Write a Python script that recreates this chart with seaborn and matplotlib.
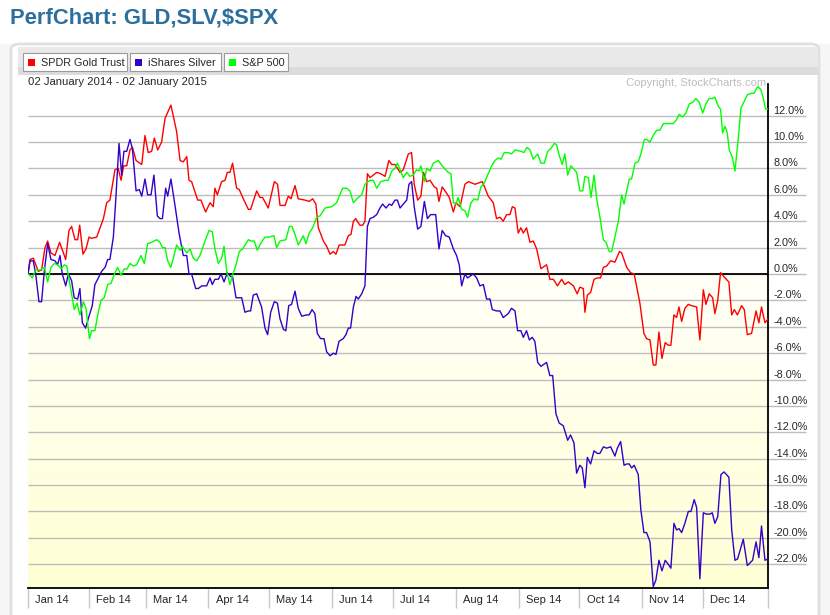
import matplotlib
matplotlib.use('Agg')
import matplotlib.pyplot as plt
from matplotlib.patches import Rectangle, FancyBboxPatch
from matplotlib.colors import LinearSegmentedColormap
import numpy as np
import pandas as pd
import seaborn as sns

# --- data: days since 02 Jan 2014, % change ---
gld_day = [0, 1.0, 2.6, 5.1, 6.7, 8.4, 9.7, 11.3, 13.3, 15.6,
           18.6, 20.2, 21.5, 23.2, 24.5, 25.5, 27.1, 28.6, 30.1, 31.4,
           33.9, 37.2, 38.8, 40.4, 42.9, 44.5, 45.9, 47.2, 48.7, 50.3,
           51.5, 53.3, 56.1, 57.7, 59.3, 61.0, 62.3, 64.0, 65.9, 67.6,
           70.5, 73.3, 75.0, 76.6, 78.3, 79.4, 80.7, 83.7, 85.3, 87.6,
           89.8, 91.4, 92.2, 93.4, 95.5, 97.2, 98.3, 99.6, 100.9, 102.9,
           104.2, 106.2, 108.7, 109.8, 112.8, 114.4, 115.7, 118.5, 121.5, 123.1,
           124.3, 126.8, 128.4, 129.7, 131.7, 133.3, 136.6, 138.7, 140.4, 142.0,
           143.2, 145.7, 147.3, 149.0, 150.6, 151.9, 153.5, 156.3, 158.0, 159.3,
           160.5, 161.6, 163.7, 165.1, 166.2, 167.4, 168.7, 172.0, 174.0, 176.1,
           178.0, 179.4, 181.0, 183.5, 185.1, 187.6, 189.2, 190.5, 192.2, 193.8,
           195.1, 196.6, 198.3, 200.4, 201.6, 202.7, 204.3, 205.7, 207.8, 209.8,
           211.1, 213.1, 215.5, 217.2, 220.5, 224.1, 227.0, 229.5, 231.1, 232.8,
           234.4, 236.1, 237.7, 238.9, 240.2, 241.8, 243.1, 244.3, 245.9, 247.6,
           249.2, 250.9, 253.0, 255.8, 257.4, 259.1, 261.2, 263.2, 264.8, 266.5,
           269.0, 270.9, 272.2, 273.9, 274.7, 275.9, 277.5, 279.2, 280.8, 282.4,
           283.8, 285.4, 287.4, 289.5, 291.7, 292.8, 295.3, 297.2, 299.0, 301.8,
           303.8, 305.1, 306.8, 308.4, 309.7, 311.2, 312.7, 314.3, 315.8, 317.1,
           318.6, 319.9, 321.1, 322.4, 324.0, 325.7, 327.3, 329.8, 331.4, 333.1,
           334.4, 336.0, 337.7, 338.8, 340.2, 341.6, 343.8, 345.7, 347.1, 348.4,
           349.9, 352.0, 353.3, 354.8, 356.9, 359.1, 360.5, 361.8, 363.5, 365.0]
gld_pct = [0, 1.1, 1.2, 0.2, 0.3, 2.0, 2.5, 1.6, 1.4, 2.4,
           1.1, 3.3, 3.6, 2.6, 2.6, 3.7, 1.5, 1.9, 2.8, 2.7,
           2.8, 4.2, 5.4, 5.6, 7.9, 8.0, 7.1, 8.2, 8.2, 9.4,
           9.6, 8.6, 8.3, 10.5, 9.2, 9.3, 10.3, 9.4, 10.0, 11.8,
           12.8, 10.8, 8.6, 8.5, 8.9, 7.1, 7.0, 5.6, 5.6, 4.7,
           5.4, 5.1, 6.5, 6.0, 7.0, 7.1, 7.7, 7.7, 8.4, 6.5,
           6.4, 5.7, 4.9, 4.9, 6.3, 5.8, 5.8, 5.0, 7.0, 6.8,
           5.2, 5.2, 5.9, 5.7, 6.7, 5.7, 5.6, 5.5, 5.7, 5.3,
           3.5, 2.5, 2.1, 1.5, 1.7, 1.5, 2.2, 2.2, 2.9, 3.0,
           4.0, 4.2, 3.7, 3.7, 4.0, 7.6, 7.3, 7.7, 7.6, 7.4,
           8.6, 8.3, 8.3, 7.7, 7.9, 9.1, 9.2, 6.8, 5.6, 5.9,
           7.7, 7.0, 7.1, 6.6, 6.5, 5.5, 6.6, 6.3, 5.8, 4.7,
           5.4, 5.1, 6.8, 7.0, 6.8, 7.0, 5.9, 5.4, 4.2, 4.3,
           4.0, 4.5, 4.5, 5.1, 5.0, 3.1, 3.5, 3.1, 3.5, 2.4,
           2.5, 1.9, 0.4, 0.7, -0.4, -0.4, -0.9, -0.4, -0.8, -0.6,
           -0.9, -1.5, -1.0, -1.1, -2.9, -1.6, -1.4, -0.4, -0.3, -0.3,
           0.5, 0.6, 1.0, 0.9, 1.7, 1.6, 0.5, 0.1, 0.0, -2.2,
           -4.5, -4.9, -5.0, -6.9, -6.9, -4.4, -6.4, -5.2, -5.4, -5.4,
           -3.1, -3.3, -2.5, -3.6, -2.6, -2.3, -2.4, -2.5, -5.0, -1.2,
           -2.3, -1.5, -1.8, -3.0, -2.0, 0.1, -0.3, -0.6, -3.1, -2.7,
           -3.1, -2.4, -2.7, -4.6, -4.5, -2.8, -3.7, -2.5, -3.7, -3.4]

slv_day = [0, 1.0, 2.6, 3.8, 5.4, 6.7, 8.1, 9.7, 11.3, 13.3,
           14.6, 15.8, 16.9, 18.6, 19.9, 21.5, 22.8, 24.5, 25.6, 26.8,
           28.4, 30.1, 31.7, 33.0, 34.7, 36.3, 38.0, 39.3, 40.4, 42.1,
           43.2, 44.9, 46.2, 47.3, 48.7, 50.3, 51.5, 53.3, 54.9, 56.1,
           57.7, 59.0, 60.7, 62.1, 63.8, 65.1, 66.3, 67.9, 68.9, 70.5,
           72.5, 74.5, 76.6, 78.3, 79.4, 80.7, 82.7, 84.0, 85.7, 88.1,
           89.8, 90.9, 92.2, 93.9, 95.2, 96.7, 98.3, 100.0, 100.9, 102.6,
           105.4, 107.0, 108.7, 109.8, 111.1, 112.8, 115.2, 116.9, 118.2, 119.7,
           121.5, 123.0, 124.3, 126.0, 127.2, 128.6, 130.0, 131.7, 133.3, 135.0,
           137.4, 138.7, 140.1, 141.5, 142.7, 144.3, 146.0, 147.3, 149.0, 150.6,
           151.9, 153.4, 155.5, 156.8, 158.0, 159.1, 160.5, 161.8, 162.9, 164.6,
           166.2, 167.4, 168.7, 170.3, 172.0, 173.6, 174.9, 176.6, 178.2, 179.4,
           181.0, 182.2, 183.5, 186.8, 187.9, 189.2, 190.5, 192.2, 193.8, 195.5,
           197.0, 198.6, 201.1, 202.7, 204.3, 206.0, 207.8, 209.8, 211.4, 212.7,
           213.9, 215.5, 216.8, 219.6, 221.3, 222.9, 224.6, 226.2, 227.9, 229.0,
           231.1, 232.8, 234.4, 236.9, 238.5, 240.2, 241.5, 243.1, 244.3, 245.9,
           247.3, 248.7, 250.0, 251.4, 253.0, 255.8, 257.4, 258.8, 260.4, 262.0,
           264.0, 266.2, 267.6, 269.3, 270.6, 272.2, 273.4, 274.7, 275.9, 277.5,
           279.2, 280.8, 282.1, 283.8, 285.4, 287.4, 289.5, 290.7, 292.3, 294.0,
           295.3, 296.6, 297.7, 299.0, 301.0, 302.3, 303.8, 305.1, 306.8, 308.4,
           309.7, 311.2, 312.7, 314.3, 315.8, 317.1, 318.6, 319.9, 321.1, 322.4,
           324.0, 325.7, 327.0, 328.6, 329.8, 331.4, 333.1, 334.7, 336.4, 337.5,
           338.8, 340.2, 341.8, 343.3, 345.7, 347.1, 348.7, 350.0, 352.8, 354.8,
           357.4, 359.1, 360.5, 361.8, 363.5, 365.0]
slv_pct = [0, 1.0, 1.0, 0, -2.1, -2.1, 0.3, 2.3, 1.1, 1.0,
           0.7, 1.4, 0, -0.9, 0, -0.5, -1.8, -1.9, -1.1, -3.7,
           -4.1, -3.2, -2.4, -0.8, -0.3, 0.2, 0.5, 1.1, 1.1, 2.8,
           5.4, 9.9, 7.5, 9.3, 9.3, 10.2, 9.5, 6.3, 6.4, 5.9,
           7.2, 6.0, 6.0, 7.5, 4.4, 4.2, 4.2, 6.5, 5.9, 7.2,
           5.2, 3.1, 1.4, 1.4, 0, 0, -1.1, -1.1, -0.9, -0.9,
           -0.3, -0.8, -0.4, -0.4, 0, -0.6, 0.1, -0.2, -0.2, -1.8,
           -1.8, -2.9, -2.8, -2.8, -1.6, -1.5, -2.5, -4.1, -4.6, -2.9,
           -2.1, -2.2, -3.4, -4.2, -4.3, -2.4, -2.3, -1.3, -2.6, -3.2,
           -3.1, -3.1, -2.7, -3.0, -4.5, -4.9, -4.9, -5.9, -6.2, -6.0,
           -6.1, -5.1, -4.9, -4.6, -4.1, -4.1, -2.5, -1.7, -1.9, -1.5,
           -0.9, 3.6, 4.2, 4.3, 4.5, 5.0, 5.3, 5.0, 5.3, 5.2,
           5.6, 5.6, 5.0, 5.6, 6.8, 7.0, 5.1, 3.4, 3.6, 5.5,
           4.2, 4.5, 4.5, 1.9, 3.3, 2.9, 2.8, 1.9, 1.4, 0.7,
           -0.9, 0, -0.3, 0, -0.3, -0.9, -0.8, -1.9, -1.9, -2.7,
           -2.8, -2.8, -3.3, -3.0, -2.6, -2.8, -4.3, -4.3, -4.8, -4.3,
           -5.0, -4.8, -5.1, -6.7, -7.0, -6.7, -7.7, -7.7, -10.6, -11.3,
           -11.5, -12.6, -12.2, -12.8, -15.1, -14.5, -14.7, -16.2, -13.9, -14.4,
           -13.4, -13.6, -13.6, -13.1, -13.2, -13.1, -13.8, -13.2, -12.7, -14.5,
           -14.4, -14.4, -14.7, -14.5, -15.2, -17.9, -19.6, -19.6, -20.3, -23.7,
           -23.2, -21.7, -22.5, -21.7, -22.0, -22.3, -18.9, -19.4, -19.3, -19.6,
           -18.9, -18.0, -18.0, -17.1, -17.7, -23.1, -18.1, -18.2, -18.2, -18.1,
           -18.9, -18.4, -15.2, -15.0, -15.4, -19.4, -21.7, -21.6, -20.1, -22.1,
           -21.7, -20.3, -21.5, -19.1, -21.7, -21.6]

spx_day = [0, 1.0, 2.1, 3.8, 5.9, 8.1, 9.7, 11.3, 13.0, 14.6,
           16.3, 17.9, 19.1, 21.5, 22.8, 24.2, 25.6, 27.3, 28.6, 30.3,
           31.4, 33.0, 34.4, 36.0, 37.6, 39.3, 41.0, 42.6, 44.2, 45.9,
           47.5, 48.7, 50.3, 52.0, 53.6, 55.7, 57.4, 59.0, 61.0, 63.5,
           65.1, 66.3, 67.6, 68.9, 70.4, 71.7, 73.3, 75.0, 76.1, 78.3,
           79.9, 81.5, 83.2, 84.8, 87.3, 89.3, 90.9, 92.2, 93.9, 95.5,
           96.7, 98.0, 99.6, 101.3, 102.6, 104.2, 105.9, 108.7, 110.0, 111.6,
           113.1, 114.7, 116.9, 119.0, 121.3, 122.6, 124.3, 127.2, 128.9, 130.2,
           131.7, 133.3, 135.8, 137.1, 138.7, 140.4, 142.4, 144.0, 146.5, 149.8,
           152.2, 155.2, 157.2, 158.8, 160.5, 162.9, 164.6, 166.2, 168.7, 170.3,
           172.0, 174.0, 176.1, 177.7, 179.4, 181.0, 182.2, 183.5, 185.1, 186.8,
           188.4, 190.0, 191.7, 192.8, 193.8, 195.5, 196.6, 198.3, 199.9, 202.4,
           204.8, 207.3, 208.6, 209.8, 211.1, 212.2, 213.9, 215.5, 216.8, 218.5,
           220.1, 221.8, 223.4, 225.1, 227.0, 228.7, 230.3, 232.0, 233.3, 234.9,
           236.9, 238.5, 240.2, 243.1, 244.6, 246.1, 247.6, 249.2, 251.4, 253.0,
           254.7, 256.3, 257.9, 259.6, 260.7, 262.0, 263.5, 264.8, 266.2, 267.8,
           270.6, 272.2, 273.6, 274.7, 276.4, 277.7, 279.2, 280.5, 282.1, 283.8,
           285.1, 286.7, 287.9, 289.5, 291.2, 292.8, 294.0, 295.3, 296.6, 297.7,
           299.4, 301.0, 302.3, 304.0, 305.1, 306.8, 308.4, 310.1, 311.7, 313.4,
           315.3, 318.3, 319.9, 321.2, 322.9, 324.5, 326.2, 327.8, 329.5, 331.1,
           332.8, 334.4, 336.0, 337.7, 338.8, 340.5, 341.6, 342.6, 343.8, 344.9,
           345.9, 347.5, 348.7, 350.3, 351.7, 353.3, 354.9, 356.9, 358.1, 359.9,
           361.4, 362.7, 363.8, 365.0]
spx_pct = [0, -0.1, -0.3, 0.3, 0.3, 0.5, -0.6, 0.5, 0.8, 0.7,
           0.4, 0.7, 0.6, -1.5, -2.7, -2.2, -3.1, -2.1, -2.6, -4.9,
           -4.3, -4.3, -3.1, -2.0, -1.8, -0.8, -0.7, 0, 0.5, -0.1,
           0.4, 0.35, 0.8, 0.6, 0.7, 1.4, 0.8, 2.3, 2.4, 2.6,
           2.4, 2.0, 2.0, 1.0, 0.5, 1.2, 2.2, 1.8, 2.1, 1.6,
           1.9, 1.2, 1.0, 1.4, 2.5, 3.3, 3.2, 1.9, 0.8, 1.2,
           2.1, 0.2, -0.8, 0.1, 0.7, 1.7, 1.9, 2.6, 2.5, 2.5,
           1.8, 2.3, 2.8, 2.8, 2.9, 2.0, 2.5, 2.6, 3.6, 3.6,
           3.0, 2.2, 2.9, 2.3, 3.1, 3.5, 4.3, 4.4, 5.0, 5.1,
           5.4, 6.5, 6.5, 6.3, 5.4, 5.8, 6.0, 6.8, 7.1, 7.1,
           6.5, 7.0, 7.1, 7.1, 7.8, 8.0, 8.4, 7.9, 7.3, 7.7,
           7.4, 7.5, 7.9, 7.8, 8.2, 7.0, 8.0, 7.8, 8.4, 8.6,
           8.1, 7.7, 7.6, 5.4, 5.3, 5.8, 4.9, 4.8, 4.3, 5.4,
           5.7, 5.6, 6.6, 6.9, 7.6, 8.2, 8.6, 8.8, 8.7, 9.2,
           9.2, 9.1, 9.4, 9.3, 9.2, 9.6, 9.4, 8.7, 9.1, 8.4,
           8.4, 9.3, 9.5, 9.9, 9.8, 9.0, 8.3, 9.1, 7.5, 8.2,
           7.7, 6.3, 6.3, 7.4, 7.3, 5.8, 7.5, 5.7, 4.3, 2.6,
           2.4, 1.7, 1.7, 2.8, 4.0, 6.0, 5.3, 6.3, 7.2, 7.2,
           8.4, 8.5, 9.1, 10.2, 10.2, 10.0, 10.5, 10.9, 10.9, 11.4,
           11.4, 11.4, 11.7, 12.1, 11.9, 12.2, 12.9, 13.0, 13.3, 13.0,
           12.2, 12.9, 13.3, 13.3, 13.4, 12.7, 12.5, 10.7, 11.2, 10.7,
           9.4, 8.8, 7.8, 10.2, 12.6, 13.1, 13.6, 13.7, 13.7, 14.2,
           14.0, 13.3, 12.5, 12.5]

series_names = ['SPDR Gold Trust', 'iShares Silver', 'S&P 500']
series_colors = ['#ff0000', '#3300cc', '#00ff00']
month_labels = ['Jan 14', 'Feb 14', 'Mar 14', 'Apr 14', 'May 14', 'Jun 14',
                'Jul 14', 'Aug 14', 'Sep 14', 'Oct 14', 'Nov 14', 'Dec 14']
y_ticks = list(range(-22, 13, 2))
y_min, y_max = -23.8, 14.4

start = pd.Timestamp('2014-01-02')
end = pd.Timestamp('2015-01-02')

frames = []
for name, days, pct in zip(series_names, [gld_day, slv_day, spx_day], [gld_pct, slv_pct, spx_pct]):
    frames.append(pd.DataFrame({'date': start + pd.to_timedelta(days, unit='D'),
                                'pct': pct, 'series': name}))
df = pd.concat(frames, ignore_index=True)

sns.set_style('white')
plt.rcParams['font.family'] = ['Liberation Sans', 'DejaVu Sans']

W, H = 830, 615
fig = plt.figure(figsize=(W / 100, H / 100), dpi=100)


def fx(x):
    return x / W


def fy(y):
    return 1 - y / H


# page / panel decoration
fig.add_artist(Rectangle((0, 0), 1, fy(44), transform=fig.transFigure,
                         fc='#f6f6f6', ec='none', zorder=-3))
fig.add_artist(FancyBboxPatch((fx(11), fy(700)), fx(819) - fx(11), fy(44) - fy(700),
                              boxstyle='round,pad=0,rounding_size=0.01',
                              transform=fig.transFigure, fc='white', ec='#e0e0e0',
                              lw=2, zorder=-2))
fig.add_artist(Rectangle((fx(18), fy(75)), fx(818) - fx(18), (75 - 47) / H,
                         transform=fig.transFigure, fc='#e9e9e9', ec='none', zorder=-1))
fig.add_artist(Rectangle((fx(18), fy(75)), fx(818) - fx(18), 8 / H,
                         transform=fig.transFigure, fc='#dcdcdc', ec='none', zorder=-1))

fig.text(fx(10), fy(18), 'PerfChart: GLD,SLV,\\$SPX', fontsize=15.8, fontweight='bold',
         color='#2c6f9c', ha='left', va='center')

button_edges = [(23, 127), (130, 221), (224, 288)]
for (bx0, bx1), name, col in zip(button_edges, series_names, series_colors):
    fig.add_artist(Rectangle((fx(bx0), fy(71)), fx(bx1) - fx(bx0), 18 / H,
                             transform=fig.transFigure, fc='white', ec='#9a9a9a', lw=0.8))
    fig.add_artist(Rectangle((fx(bx0 + 5), fy(66)), 7 / W, 7 / H,
                             transform=fig.transFigure, fc=col, ec='none'))
    fig.text(fx(bx0 + 18), fy(62.5), name, fontsize=7.8, ha='left', va='center')

fig.text(fx(28), fy(82), '02 January 2014 - 02 January 2015', fontsize=8.1,
         ha='left', va='center')
fig.text(fx(766), fy(83), 'Copyright, StockCharts.com', fontsize=8.1,
         color='#bdbdbd', ha='right', va='center')

# plot area
ax = fig.add_axes([fx(28), fy(588), fx(768) - fx(28), fy(84) - fy(588)])
ax.patch.set_alpha(0)

cmap = LinearSegmentedColormap.from_list('bg', ['#fffff7', '#ffffd4'])
n = 60
edges = np.linspace(0, y_min, n + 1)
for i in range(n):
    ax.axhspan(edges[i + 1], edges[i], color=cmap(i / (n - 1)), lw=0, zorder=0)

ax.hlines(y_ticks, 0, 1.051, transform=ax.get_yaxis_transform(), colors='#bdbdbd',
          lw=1, zorder=1, clip_on=False)
ax.axhline(0, color='black', lw=1.3, zorder=2)

sns.lineplot(data=df, x='date', y='pct', hue='series', hue_order=series_names,
             palette=series_colors, estimator=None, sort=False, lw=1.0,
             legend=False, ax=ax, zorder=3)

ax.set_xlim(start, end)
ax.set_ylim(y_min, y_max)
ax.set_xlabel('')
ax.set_ylabel('')
ax.set_xticks([])

ax.yaxis.tick_right()
ax.set_yticks(y_ticks)
ax.set_yticklabels([f'{v:.1f}%' for v in y_ticks])
ax.tick_params(axis='y', length=0, pad=4, labelsize=7.8)
for t in ax.get_yticklabels():
    t.set_va('bottom')

for side in ['left', 'top']:
    ax.spines[side].set_visible(False)
for side in ['right', 'bottom']:
    ax.spines[side].set_color('black')
    ax.spines[side].set_linewidth(1.3)

# month separators and labels under the axis
month_starts = list(pd.date_range('2014-01-01', '2014-12-01', freq='MS'))
month_starts[0] = start
ax.vlines(month_starts + [end], -20 / 504, 0, transform=ax.get_xaxis_transform(),
          colors='#c8c8c8', lw=1, clip_on=False)
for d, lab in zip(month_starts, month_labels):
    ax.text(d + pd.Timedelta(days=3.5), -12 / 504, lab, transform=ax.get_xaxis_transform(),
            ha='left', va='center', fontsize=8)

fig.savefig('out.png', dpi=100)
